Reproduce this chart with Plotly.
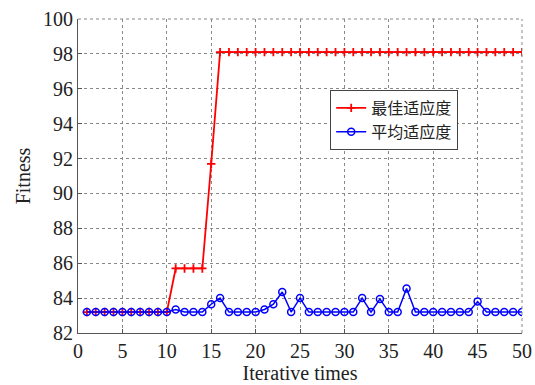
import plotly.graph_objects as go

iterations = list(range(1, 51))
best_fitness = [83.2]*10 + [85.7]*4 + [91.7] + [98.1]*35
avg_fitness = [83.2]*10 + [83.35, 83.2, 83.2, 83.2, 83.65, 84.0, 83.2, 83.2, 83.2, 83.2,
               83.35, 83.65, 84.35, 83.2, 84.0, 83.2, 83.2, 83.2, 83.2, 83.2,
               83.2, 84.0, 83.2, 83.95, 83.2, 83.2, 84.55, 83.2, 83.2, 83.2,
               83.2, 83.2, 83.2, 83.2, 83.8, 83.2, 83.2, 83.2, 83.2, 83.2]
x_ticks = list(range(0, 51, 5))
y_ticks = list(range(82, 101, 2))
series_names = ["最佳适应度", "平均适应度"]

font_fam = "Liberation Serif, Noto Sans CJK SC, serif"

fig = go.Figure()
fig.add_trace(go.Scatter(
    x=iterations, y=best_fitness, mode="lines+markers", name=series_names[0],
    line=dict(color="#ff0000", width=1.8),
    marker=dict(symbol="cross-thin", size=6, line=dict(color="#ff0000", width=1.8)),
))
fig.add_trace(go.Scatter(
    x=iterations, y=avg_fitness, mode="lines+markers", name=series_names[1],
    line=dict(color="#0000ff", width=1.5),
    marker=dict(symbol="circle-open", size=7, line=dict(color="#0000ff", width=1.5)),
))

axis_common = dict(
    showline=True, linecolor="#555555", linewidth=1.2, mirror=False,
    showgrid=True, gridcolor="#888888", griddash="dot", gridwidth=1,
    ticks="inside", ticklen=4, tickcolor="#555555", zeroline=False,
    tickfont=dict(family=font_fam, size=20, color="#222222"),
    automargin=False,
)

fig.update_layout(
    width=535, height=385,
    margin=dict(l=78, r=13, t=19, b=52),
    paper_bgcolor="white", plot_bgcolor="white",
    font=dict(family=font_fam, color="#222222"),
    xaxis=dict(range=[0, 50], tickvals=x_ticks,
               title=dict(text="Iterative times", font=dict(family=font_fam, size=20), standoff=0),
               **axis_common),
    yaxis=dict(range=[82, 100], tickvals=y_ticks,
               title=dict(text="Fitness", font=dict(family=font_fam, size=20), standoff=6),
               **axis_common),
    legend=dict(x=0.568, y=0.774, xanchor="left", yanchor="top",
                bgcolor="white", bordercolor="#444444", borderwidth=1,
                font=dict(family="Noto Sans CJK SC, serif", size=16, color="#222222"),
                tracegroupgap=0, itemwidth=30),
    showlegend=True,
)
# dotted top/right border like the gridlines
fig.add_shape(type="line", xref="paper", yref="paper", x0=0, x1=1, y0=1, y1=1,
              line=dict(color="#888888", width=1, dash="dot"))
fig.add_shape(type="line", xref="paper", yref="paper", x0=1, x1=1, y0=0, y1=1,
              line=dict(color="#888888", width=1, dash="dot"))

fig.write_html("out.html", config={"displayModeBar": False},
               post_script="document.body.style.margin='0';document.body.style.overflow='hidden';")
